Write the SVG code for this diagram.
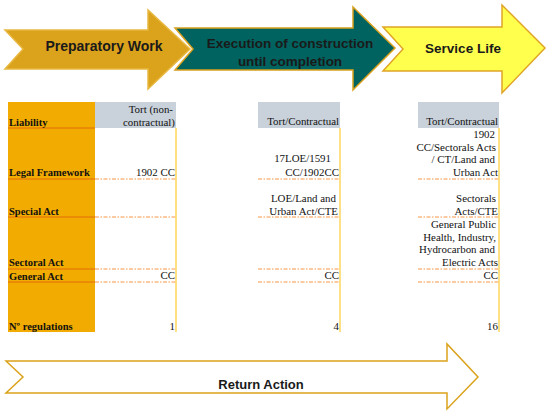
<svg xmlns="http://www.w3.org/2000/svg" width="550" height="413" viewBox="0 0 550 413">
<style>
.ah{font-family:"Liberation Sans",Arial,sans-serif;font-weight:bold;font-size:13.5px;fill:#1a1a1a;text-anchor:middle}
.lab{font-family:"Liberation Serif","Times New Roman",serif;font-weight:bold;font-size:10.5px;fill:#111111}
.val{font-family:"Liberation Serif","Times New Roman",serif;font-size:10.9px;fill:#111111;text-anchor:end}
.sep{stroke:#E46C0A;stroke-width:1}
.dash{stroke:#F79646;stroke-width:1;stroke-dasharray:4 1.5 1.5 1.5}
.vb{stroke:#FFD966;stroke-width:1.6}
.hdr{fill:#C9D1DB}
</style>
<rect width="550" height="413" fill="#ffffff"/>
<g id="connectors"></g>
<g id="arrow-execution">
<polygon points="175,28 353,28 353,7 395,48 353,90 353,70 175,70 193,49" fill="#00635F" stroke="#D9A11E" stroke-width="1.5"/>
<text class="ah" x="290" y="48">Execution of construction</text>
<text class="ah" x="290" y="66">until completion</text>
</g>
<g id="arrow-preparatory">
<polygon points="5,30 148,30 148,10 190,49 148,89 148,69 5,69 23,49" fill="#DBA21C" stroke="#E8B840" stroke-width="1.5"/>
<text class="ah" x="104" y="51" style="font-size:14px">Preparatory Work</text>
</g>
<g id="arrow-service">
<polygon points="383,27 502,27 502,5 545,48 502,93 502,71 383,71 403,49" fill="#FFFF4D" stroke="#E0A526" stroke-width="1.5"/>
<text class="ah" x="463" y="53">Service Life</text>
</g>
<g id="table-labels">
<rect x="8" y="102" width="87" height="230" fill="#F2AB00"/>
<line class="sep" x1="8" y1="128" x2="95" y2="128"/>
<line class="sep" x1="8" y1="179" x2="95" y2="179"/>
<line class="sep" x1="8" y1="217" x2="95" y2="217"/>
<line class="sep" x1="8" y1="269" x2="95" y2="269"/>
<line class="sep" x1="8" y1="282" x2="95" y2="282"/>
<text class="lab" x="9" y="126">Liability</text>
<text class="lab" x="9" y="176">Legal Framework</text>
<text class="lab" x="9" y="215">Special Act</text>
<text class="lab" x="9" y="266">Sectoral Act</text>
<text class="lab" x="9" y="280">General Act</text>
<text class="lab" x="9" y="330">Nº regulations</text>
</g>
<g id="column-preparatory">
<rect class="hdr" x="95" y="102" width="81" height="26"/>
<line class="dash" x1="95" y1="179" x2="176" y2="179"/>
<line class="dash" x1="95" y1="217" x2="176" y2="217"/>
<line class="dash" x1="95" y1="269" x2="176" y2="269"/>
<line class="dash" x1="95" y1="282" x2="176" y2="282"/>
<line class="vb" x1="176" y1="128" x2="176" y2="332"/>
<text class="val" x="173" y="113">Tort (non-</text>
<text class="val" x="175" y="126">contractual)</text>
<text class="val" x="175" y="176">1902 CC</text>
<text class="val" x="175" y="279">CC</text>
<text class="val" x="175" y="330">1</text>
</g>
<g id="column-execution">
<rect class="hdr" x="258" y="102" width="82" height="26"/>
<line class="dash" x1="258" y1="179" x2="340" y2="179"/>
<line class="dash" x1="258" y1="217" x2="340" y2="217"/>
<line class="dash" x1="258" y1="269" x2="340" y2="269"/>
<line class="dash" x1="258" y1="282" x2="340" y2="282"/>
<line class="vb" x1="340" y1="128" x2="340" y2="332"/>
<text class="val" x="339" y="125">Tort/Contractual</text>
<text class="val" x="331" y="162">17LOE/1591</text>
<text class="val" x="339" y="176">CC/1902CC</text>
<text class="val" x="336" y="202">LOE/Land and</text>
<text class="val" x="338" y="215">Urban Act/CTE</text>
<text class="val" x="339" y="279">CC</text>
<text class="val" x="339" y="330">4</text>
</g>
<g id="column-service">
<rect class="hdr" x="418" y="102" width="81" height="26"/>
<line class="dash" x1="418" y1="179" x2="499" y2="179"/>
<line class="dash" x1="418" y1="217" x2="499" y2="217"/>
<line class="dash" x1="418" y1="269" x2="499" y2="269"/>
<line class="dash" x1="418" y1="282" x2="499" y2="282"/>
<line class="vb" x1="499" y1="128" x2="499" y2="332"/>
<text class="val" x="498" y="125">Tort/Contractual</text>
<text class="val" x="495" y="138">1902</text>
<text class="val" x="496" y="151">CC/Sectorals Acts</text>
<text class="val" x="495" y="163">/ CT/Land and</text>
<text class="val" x="498" y="176">Urban Act</text>
<text class="val" x="496" y="202">Sectorals</text>
<text class="val" x="498" y="215">Acts/CTE</text>
<text class="val" x="496" y="228">General Public</text>
<text class="val" x="496" y="241">Health, Industry,</text>
<text class="val" x="495" y="253">Hydrocarbon and</text>
<text class="val" x="498" y="266">Electric Acts</text>
<text class="val" x="498" y="279">CC</text>
<text class="val" x="498" y="330">16</text>
</g>
<g id="arrow-return">
<polygon points="6,361 447,361 447,344 478,377 447,409 447,393 6,393 23,377" fill="#ffffff" stroke="#DBA21C" stroke-width="1.5"/>
<text class="ah" x="261" y="389" style="font-size:13px">Return Action</text>
</g>
</svg>
